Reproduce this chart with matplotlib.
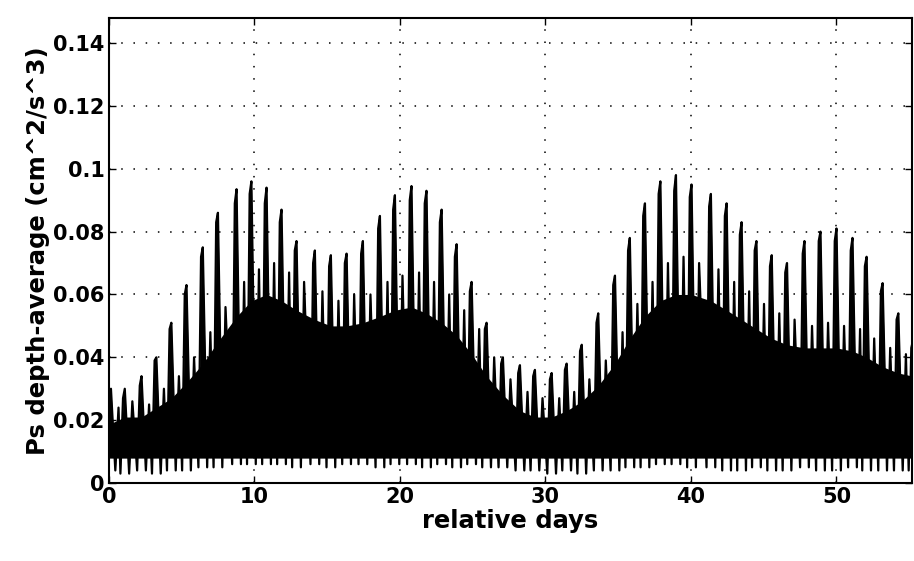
import numpy as np
import matplotlib.pyplot as plt

plt.rcParams['font.family'] = ['DejaVu Sans']

# day of each tall (diurnal) spike
spike_day = [0.15, 1.1, 2.25, 3.27, 4.3, 5.34, 6.46, 7.5, 8.78, 9.8,
             10.84, 11.87, 12.9, 14.16, 15.26, 16.34, 17.46, 18.63, 19.66, 20.8,
             21.83, 22.87, 23.9, 24.93, 25.96, 27.08, 28.25, 29.28, 30.43, 31.46,
             32.5, 33.63, 34.78, 35.8, 36.84, 37.9, 38.97, 40.04, 41.37, 42.45,
             43.48, 44.5, 45.55, 46.6, 47.8, 48.9, 50.0, 51.1, 52.07, 53.17,
             54.25, 55.26]
# height of each spike
spike_peak = [0.030, 0.030, 0.034, 0.040, 0.051, 0.063, 0.075, 0.086, 0.0935, 0.096,
              0.094, 0.087, 0.077, 0.074, 0.0725, 0.073, 0.077, 0.085, 0.0916, 0.0945,
              0.093, 0.087, 0.076, 0.064, 0.051, 0.040, 0.0375, 0.036, 0.035, 0.038,
              0.044, 0.054, 0.066, 0.078, 0.089, 0.096, 0.098, 0.095, 0.092, 0.089,
              0.083, 0.077, 0.0725, 0.070, 0.077, 0.080, 0.081, 0.078, 0.072, 0.0636,
              0.054, 0.0455]
# second peak of each doublet
spike_twin = [0.026, 0.027, 0.031, 0.039, 0.049, 0.060, 0.072, 0.083, 0.089, 0.092,
              0.089, 0.083, 0.074, 0.070, 0.069, 0.070, 0.073, 0.081, 0.087, 0.090,
              0.089, 0.083, 0.072, 0.061, 0.049, 0.038, 0.035, 0.034, 0.033, 0.036,
              0.042, 0.051, 0.063, 0.074, 0.085, 0.092, 0.093, 0.091, 0.088, 0.085,
              0.079, 0.074, 0.069, 0.067, 0.073, 0.077, 0.077, 0.074, 0.069, 0.061,
              0.052, 0.043]
# smaller peak half a day after each spike
sec_peak = [0.024, 0.026, 0.025, 0.030, 0.034, 0.040, 0.048, 0.056, 0.064, 0.068,
            0.070, 0.067, 0.064, 0.061, 0.058, 0.060, 0.060, 0.064, 0.066, 0.067,
            0.064, 0.060, 0.055, 0.049, 0.040, 0.033, 0.029, 0.027, 0.027, 0.029,
            0.033, 0.039, 0.048, 0.057, 0.064, 0.070, 0.072, 0.070, 0.068, 0.064,
            0.061, 0.057, 0.054, 0.052, 0.050, 0.051, 0.050, 0.049, 0.046, 0.043,
            0.041, 0.039]
# top of the solid part of the trace at each spike
band_top = [0.019, 0.021, 0.021, 0.024, 0.027, 0.032, 0.038, 0.045, 0.053, 0.058,
            0.060, 0.058, 0.055, 0.052, 0.050, 0.050, 0.051, 0.053, 0.055, 0.056,
            0.054, 0.051, 0.047, 0.041, 0.034, 0.028, 0.023, 0.021, 0.021, 0.023,
            0.026, 0.031, 0.038, 0.046, 0.053, 0.058, 0.060, 0.060, 0.058, 0.055,
            0.052, 0.049, 0.046, 0.044, 0.043, 0.043, 0.043, 0.042, 0.040, 0.037,
            0.035, 0.034]
# low points either side of each spike
trough = [0.004, 0.003, 0.004, 0.003, 0.004, 0.004, 0.005, 0.005, 0.006, 0.006,
          0.006, 0.006, 0.005, 0.006, 0.005, 0.006, 0.006, 0.005, 0.006, 0.006,
          0.005, 0.006, 0.005, 0.006, 0.005, 0.005, 0.004, 0.004, 0.003, 0.004,
          0.003, 0.004, 0.004, 0.005, 0.005, 0.006, 0.006, 0.005, 0.005, 0.004,
          0.004, 0.005, 0.004, 0.004, 0.005, 0.004, 0.004, 0.005, 0.004, 0.004,
          0.004, 0.004]
band_low = 0.008
start_val = 0.025

x_ticks = [0, 10, 20, 30, 40, 50]
y_ticks = [0, 0.02, 0.04, 0.06, 0.08, 0.1, 0.12, 0.14]
y_labels = ['0', '0.02', '0.04', '0.06', '0.08', '0.1', '0.12', '0.14']

# trace: trough, twin peak, main peak, trough, smaller peak
t = [0.0]
v = [start_val]
for d, p, tw, s, lo in zip(spike_day, spike_peak, spike_twin, sec_peak, trough):
    t += [d - 0.3, d - 0.12, d, d + 0.3, d + 0.52]
    v += [lo, tw, p, lo, s]

fig = plt.figure(figsize=(9.14, 5.61), dpi=100)
ax = fig.add_axes([0.119, 0.139, 0.879, 0.829])

ax.fill_between(spike_day, band_low, band_top, color='black', lw=0, zorder=2)
ax.fill_between([0, spike_day[0]], band_low, [start_val, band_top[0]], color='black', lw=0, zorder=2)
ax.fill_between(t, band_low, v, color='black', lw=0, zorder=2)
ax.plot(t, v, color='black', lw=1.6, zorder=3)

ax.set_xlim(0, 55.2)
ax.set_ylim(0, 0.148)
ax.set_xticks(x_ticks)
ax.set_yticks(y_ticks)
ax.set_yticklabels(y_labels)
ax.grid(True, color='black', linestyle=(0, (1, 7)), lw=1.1)
ax.set_axisbelow(True)
ax.tick_params(direction='in', length=5, width=1, labelsize=15, pad=3,
               top=True, right=True)
for lab in ax.get_xticklabels() + ax.get_yticklabels():
    lab.set_fontweight('bold')
for s in ax.spines.values():
    s.set_linewidth(1.5)

ax.set_xlabel('relative days', fontsize=17.5, fontweight='bold', labelpad=1)
ax.set_ylabel('Ps depth-average (cm^2/s^3)', fontsize=17.5, fontweight='bold', labelpad=2)

fig.savefig('out.png', dpi=100)
